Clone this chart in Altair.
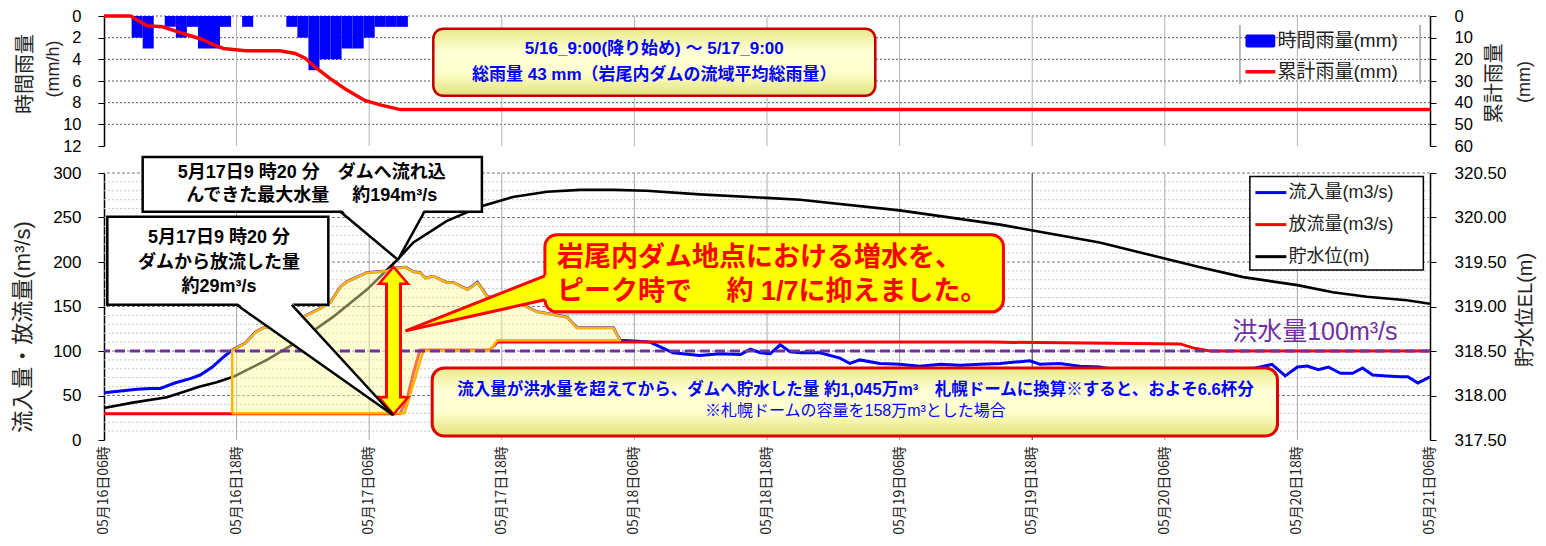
import altair as alt
import pandas as pd

FONT = "Liberation Sans, Noto Sans CJK JP"
XLAB_FONT = "Noto Sans CJK JP"

# ---------------- x axis: hours after 05/16 06:00 ----------------
X_DOMAIN = [0, 120]
X_TICK_HOURS = [0, 12, 24, 36, 48, 60, 72, 84, 96, 108, 120]
X_TICK_LABELS = ["05月16日06時", "05月16日18時", "05月17日06時", "05月17日18時",
                 "05月18日06時", "05月18日18時", "05月19日06時", "05月19日18時",
                 "05月20日06時", "05月20日18時", "05月21日06時"]
VGRID_LIGHT = [12, 24, 36, 48, 60, 72, 96, 108]
VGRID_DARK = [84]

# ---------------- top panel: rainfall ----------------
RAIN_TICKS = [0, 2, 4, 6, 8, 10, 12]
CUM_TICKS = [0, 10, 20, 30, 40, 50, 60]
RAIN_GRID = [0, 2, 4, 6, 8, 10]
RAIN_HOUR = [3, 4, 6, 7, 8, 9, 10, 11, 13, 17, 18, 19, 20, 21, 22, 23, 24, 25, 26, 27]
RAIN_MM = [2, 3, 1, 2, 1, 3, 3, 1, 1, 1, 2, 5, 4, 4, 3, 3, 2, 1, 1, 1]
CUM_HOUR = [0, 2.4, 3.9, 5.3, 6.9, 8.7, 9.9, 10.8, 12.8, 15.9, 17.3, 18.2, 19.2, 20.5, 21.8, 23.6, 25.0, 26.8, 120]
CUM_MM = [0, 0, 4.5, 5.0, 7.7, 10.5, 13.2, 15.0, 16.0, 16.0, 17.3, 19.5, 24.0, 29.0, 33.6, 39.0, 41.0, 43.2, 43.2]

# ---------------- bottom panel: flows and level ----------------
FLOW_TICKS = [0, 50, 100, 150, 200, 250, 300]
LEVEL_TICKS = [317.5, 318.0, 318.5, 319.0, 319.5, 320.0, 320.5]
FLOW_GRID_MAJOR = [50, 100, 150, 200, 250, 300]
FLOW_GRID_MINOR = [10, 20, 30, 40, 60, 70, 80, 90, 110, 120, 130, 140, 160, 170, 180, 190,
                   210, 220, 230, 240, 260, 270, 280, 290]
FLOOD_FLOW = [100]

INFLOW_READINGS = [
    (0, 53), (1.5, 55), (3.0, 57), (4.2, 58), (5.1, 58), (6.4, 64), (7.8, 69), (8.7, 73),
    (9.8, 82), (10.7, 92), (11.6, 101), (12.8, 109), (13.7, 121), (14.4, 126), (15.0, 127),
    (16.6, 131), (18.0, 138), (19.6, 148), (20.5, 155), (21.4, 172), (22.0, 178), (23.8, 188),
    (25.6, 190), (26.2, 193), (27.3, 194), (28.0, 189), (28.6, 188), (29.1, 182), (29.8, 184),
    (31.0, 177), (31.6, 177), (32.9, 169), (33.8, 177), (34.7, 161), (35.6, 160), (37.0, 157),
    (39.2, 144), (40.6, 141), (41.9, 138), (42.8, 126), (44.0, 126), (46.1, 126), (46.7, 112),
    (49.4, 110), (51.5, 98), (53.9, 95), (55.7, 97), (57.6, 96), (58.5, 102), (59.4, 98),
    (60.3, 97), (61.2, 107), (62.1, 99), (63.0, 98), (64.8, 98), (66.6, 92), (67.5, 86),
    (68.4, 90), (70.2, 86), (72.0, 85), (73.8, 83), (75.7, 85), (77.5, 84), (79.3, 85),
    (81.1, 86), (82.9, 88), (83.8, 89), (84.7, 85), (86.5, 86), (88.3, 83), (90.1, 82),
    (94.7, 72), (101.0, 72), (105.7, 85), (106.9, 72), (108.0, 82), (108.9, 83), (109.9, 79),
    (110.8, 82), (111.9, 75), (113.0, 75), (113.9, 81), (114.8, 73), (116.1, 72), (117.3, 71),
    (118.0, 71), (118.9, 64), (120.0, 71)]
OUTFLOW_READINGS = [
    (0, 29.5), (26.3, 29.5), (26.8, 30), (27.4, 45), (28.0, 75), (28.6, 101), (34.9, 101),
    (35.6, 110), (60, 110), (80, 110), (97.4, 108), (98.7, 103), (100.1, 100), (120, 100)]
LEVEL_READINGS = [
    (0, 317.86), (2.6, 317.92), (5.7, 317.98), (8.7, 318.10), (10.2, 318.15), (11.7, 318.21),
    (14.75, 318.40), (17.7, 318.62), (20.7, 318.88), (23.8, 319.19), (26.5, 319.52),
    (28.0, 319.72), (31.0, 319.96), (34.0, 320.12), (37.0, 320.23), (40.1, 320.29),
    (43.1, 320.31), (46.1, 320.31), (49.1, 320.30), (53.9, 320.26), (63.0, 320.20),
    (72.0, 320.08), (81.1, 319.92), (83.8, 319.86), (90.1, 319.72), (99.2, 319.44),
    (103.1, 319.33), (108.0, 319.24), (111.2, 319.16), (114.3, 319.11), (117.9, 319.07),
    (120.0, 319.03)]
# outline of the stored-volume area (inflow above flood flow minus release)
STORE_OUTLINE = [
    (11.6, 30), (11.6, 101), (12.8, 109), (13.7, 121), (14.4, 126), (15.0, 127), (16.6, 131),
    (18.0, 138), (19.6, 148), (20.5, 155), (21.4, 172), (22.0, 178), (23.8, 188), (25.6, 190),
    (26.2, 193), (27.3, 194), (28.0, 189), (28.6, 188), (29.1, 182), (29.8, 184), (31.0, 177),
    (31.6, 177), (32.9, 169), (33.8, 177), (34.7, 161), (35.6, 160), (37.0, 157), (39.2, 144),
    (40.6, 141), (41.9, 138), (42.8, 126), (44.0, 126), (46.1, 126), (46.7, 112), (35.6, 112),
    (34.9, 100), (28.9, 100), (27.2, 30), (11.6, 30)]

# ---------------- texts ----------------
TOP_TITLES = ["時間雨量", "(mm/h)", "累計雨量", "(mm)"]
BOT_TITLES = ["流入量・放流量(m³/s)", "貯水位EL(m)"]
TOP_NOTE = ["5/16_9:00(降り始め)  ～  5/17_9:00", "総雨量 43 mm（岩尾内ダムの流域平均総雨量）"]
BOTTOM_NOTE = ["流入量が洪水量を超えてから、ダムへ貯水した量 約1,045万m³　札幌ドームに換算※すると、およそ6.6杯分",
               "※札幌ドームの容量を158万m³とした場合"]
PEAK_IN_NOTE = ["5月17日9 時20 分　ダムへ流れ込", "んできた最大水量　 約194m³/s"]
PEAK_OUT_NOTE = ["5月17日9 時20 分", "ダムから放流した量", "約29m³/s"]
RESULT_NOTE = ["岩尾内ダム地点における増水を、", "ピーク時で　 約 1/7に抑えました。"]
FLOOD_LABEL = ["洪水量100m³/s"]
TOP_LEGEND = ["時間雨量(mm)", "累計雨量(mm)"]
BOT_LEGEND = ["流入量(m3/s)", "放流量(m3/s)", "貯水位(m)"]
BOT_LEGEND_COLORS = ["#0000FF", "#FF0000", "#000000"]

W = 1326
H_TOP = 130
H_BOT = 267

XS = alt.Scale(domain=X_DOMAIN, nice=False, zero=False)
YT = alt.Scale(domain=[0, 12], reverse=True, nice=False, zero=False)
YT2 = alt.Scale(domain=[0, 60], reverse=True, nice=False, zero=False)
YB = alt.Scale(domain=[0, 300], nice=False, zero=False)
YB2 = alt.Scale(domain=[317.5, 320.5], nice=False, zero=False)


def xq(f, axis=None):
    return alt.X(f"{f}:Q", scale=XS, axis=axis)


def yq(f, sc, axis=None):
    return alt.Y(f"{f}:Q", scale=sc, axis=axis)


def df(**cols):
    return pd.DataFrame(cols)


def rect(xa, xb, ya, yb, sc, **mark):
    return alt.Chart(df(xa=[xa], xb=[xb], ya=[ya], yb=[yb])).mark_rect(**mark).encode(
        x=xq("xa"), x2=alt.X2("xb"), y=yq("ya", sc), y2=alt.Y2("yb"))


def texts(xs, ys, labels, sc, **mark):
    m = dict(font=FONT, baseline="middle")
    m.update(mark)
    return alt.Chart(df(x=xs, y=ys, t=labels)).mark_text(**m).encode(
        x=xq("x"), y=yq("y", sc), text="t:N")


def seg(x1s, y1s, x2s, y2s, sc, **mark):
    return alt.Chart(df(xa=x1s, ya=y1s, xb=x2s, yb=y2s)).mark_rule(**mark).encode(
        x=xq("xa"), y=yq("ya", sc), x2=alt.X2("xb"), y2=alt.Y2("yb"))


BOX_GRADIENT = alt.Gradient(
    gradient="linear", x1=0, x2=0, y1=0, y2=1,
    stops=[alt.GradientStop(color="#E9E98A", offset=0),
           alt.GradientStop(color="#FFFFD8", offset=0.35),
           alt.GradientStop(color="#FFFFCC", offset=0.65),
           alt.GradientStop(color="#E2E27A", offset=1)])

axis_common = dict(labelFont=FONT, labelColor="black", tickColor="black", domainColor="black",
                   domainWidth=1.5, grid=False, tickSize=6, title=None)

# ======================= TOP PANEL =======================
top_x_axis = alt.Axis(labels=False, ticks=False, grid=False, title=None,
                      domainColor="black", domainWidth=1.5)
rain_left_axis = alt.Axis(values=RAIN_TICKS, labelFontSize=16.5, labelPadding=17, **axis_common)
rain_right_axis = alt.Axis(values=CUM_TICKS, orient="right", labelFontSize=16.5, labelPadding=18,
                           **axis_common)

t_hgrid = alt.Chart(df(v=RAIN_GRID)).mark_rule(color="#555555", strokeDash=[2, 2], strokeWidth=1).encode(
    y=yq("v", YT))
t_vgrid = alt.Chart(df(h=VGRID_LIGHT + VGRID_DARK)).mark_rule(color="#B4B4B4", strokeWidth=1).encode(
    x=xq("h"))
t_bars = alt.Chart(df(h=RAIN_HOUR, mm=RAIN_MM)).transform_calculate(
    x0="datum.h - 0.5", x1="datum.h + 0.5", base="0").mark_rect(color="#0000FF").encode(
    x=xq("x0", top_x_axis), x2=alt.X2("x1"), y=yq("mm", YT, rain_left_axis), y2=alt.Y2("base"))
t_cum = alt.Chart(df(h=CUM_HOUR, mm=CUM_MM)).mark_line(color="#FF0000", strokeWidth=3.5).encode(
    x=xq("h"), y=yq("mm", YT2, rain_right_axis))

t_titles = alt.Chart(df(x=[-7.06, -4.52, 125.9, 128.6], y=[5.36, 4.9, 6.2, 6.1], t=TOP_TITLES,
                        s=[20, 18, 20, 18])).mark_text(
    font=FONT, angle=270, align="center", baseline="middle", color="#222222").encode(
    x=xq("x"), y=yq("y", YT), text="t:N", size=alt.Size("s:Q", scale=None))

t_note_shadow = rect(29.8, 69.8, 1.18, 7.36, YT, color="#000000", opacity=0.22, cornerRadius=10,
                     xOffset=3, yOffset=3)
t_note_box = rect(29.8, 69.8, 1.18, 7.36, YT, fill=BOX_GRADIENT, stroke="#C00000", strokeWidth=2.5,
                  cornerRadius=10)
t_note_text = texts([49.8, 49.8], [3.05, 5.4], TOP_NOTE, YT, fontSize=17, fontWeight="bold",
                    color="#0000FF", align="center")

t_leg_lines = seg([102.8, 119.1], [0.82, 0.82], [102.8, 119.1], [6.27, 6.27], YT,
                  color="#A0A0A0", strokeWidth=1.5)
t_leg_swatch = rect(103.3, 106.0, 1.7, 2.9, YT, color="#0000FF", cornerRadius=2)
t_leg_line = seg([103.3], [5.15], [106.0], [5.15], YT, color="#FF0000", strokeWidth=3.5)
t_leg_text = texts([106.2, 106.2], [2.3, 5.15], TOP_LEGEND, YT, fontSize=19, color="#222222",
                   align="left")

top = alt.layer(
    t_hgrid, t_vgrid, t_bars, t_cum, t_titles, t_note_shadow, t_note_box, t_note_text,
    t_leg_lines, t_leg_swatch, t_leg_line, t_leg_text
).resolve_scale(y="independent").properties(width=W, height=H_TOP)

# ======================= BOTTOM PANEL =======================
bot_x_axis = alt.Axis(values=X_TICK_HOURS, labels=False, tickSize=5, tickColor="black",
                      domainColor="black", domainWidth=1.5, grid=False, title=None)
flow_axis = alt.Axis(values=FLOW_TICKS, labelFontSize=17, labelPadding=17, **axis_common)
level_axis = alt.Axis(values=LEVEL_TICKS, format=".2f", orient="right", labelFontSize=17,
                      labelPadding=18, **axis_common)

inflow_df = pd.DataFrame(INFLOW_READINGS, columns=["h", "v"])
outflow_df = pd.DataFrame(OUTFLOW_READINGS, columns=["h", "v"])
level_df = pd.DataFrame(LEVEL_READINGS, columns=["h", "v"])
store_df = pd.DataFrame(STORE_OUTLINE, columns=["h", "v"]).reset_index().rename(columns={"index": "o"})

b_minor = alt.Chart(df(v=FLOW_GRID_MINOR)).mark_rule(color="#C8C8C8", strokeDash=[2, 2], strokeWidth=1).encode(
    y=yq("v", YB))
b_major = alt.Chart(df(v=FLOW_GRID_MAJOR)).mark_rule(color="#7A7A7A", strokeDash=[3, 2], strokeWidth=1).encode(
    y=yq("v", YB))
b_vgrid = alt.Chart(df(h=VGRID_LIGHT)).mark_rule(color="#A8A8A8", strokeWidth=1).encode(x=xq("h"))
b_vgrid_dark = alt.Chart(df(h=VGRID_DARK)).mark_rule(color="#303030", strokeWidth=1).encode(x=xq("h"))
b_level = alt.Chart(level_df).mark_line(color="#000000", strokeWidth=2.6).encode(
    x=xq("h"), y=yq("v", YB2, level_axis))
b_inflow = alt.Chart(inflow_df).mark_line(color="#0000FF", strokeWidth=3).encode(
    x=xq("h", bot_x_axis), y=yq("v", YB, flow_axis))
b_outflow = alt.Chart(outflow_df).mark_line(color="#FF0000", strokeWidth=3).encode(
    x=xq("h"), y=yq("v", YB))
b_store = alt.Chart(store_df).mark_line(fill="#FAFA9A", fillOpacity=0.45, stroke="#FFB400",
                                        strokeWidth=2.5, strokeJoin="round").encode(
    x=xq("h"), y=yq("v", YB), order="o:Q")
b_flood = alt.Chart(df(v=FLOOD_FLOW)).mark_rule(color="#7030A0", strokeDash=[10, 5], strokeWidth=3).encode(
    y=yq("v", YB))

# time labels under the bottom panel (rotated, reading upwards)
b_xlabels = alt.Chart(df(h=X_TICK_HOURS, y=[-7.0] * len(X_TICK_HOURS), t=X_TICK_LABELS)).mark_text(
    font=XLAB_FONT, fontSize=14, angle=270, align="right", baseline="middle", color="#222222").encode(
    x=xq("h"), y=yq("y", YB), text="t:N")

b_titles = alt.Chart(df(x=[-7.33, 128.7], y=[127.0, 146.0], t=BOT_TITLES, s=[22, 20])).mark_text(
    font=FONT, angle=270, align="center", baseline="middle", color="#222222").encode(
    x=xq("x"), y=yq("y", YB), text="t:N", size=alt.Size("s:Q", scale=None))

# bottom note box
b_note_shadow = rect(29.7, 106.2, 81, 4.5, YB, color="#000000", opacity=0.25, cornerRadius=12,
                     xOffset=4, yOffset=4)
b_note_box = rect(29.7, 106.2, 81, 4.5, YB, fill=BOX_GRADIENT, stroke="#E00000", strokeWidth=3,
                  cornerRadius=12)
b_note_text1 = texts([68.0], [56.5], BOTTOM_NOTE[:1], YB, fontSize=16.5, fontWeight="bold", color="#0000FF",
                     align="center")
b_note_text2 = texts([68.0], [32.5], BOTTOM_NOTE[1:], YB, fontSize=16, color="#0000FF", align="center")

# double arrow (peak inflow vs release)
ARROW_H = [26.2]
b_arrow_red = alt.Chart(df(h=ARROW_H, a=[176.0], b=[48.0])).mark_rule(
    color="#FF0000", strokeWidth=17, strokeCap="butt").encode(x=xq("h"), y=yq("a", YB), y2=alt.Y2("b"))
b_head_up = alt.Chart(df(h=ARROW_H, v=[185.0])).mark_point(
    shape="M0,-0.586L1,0.586L-1,0.586Z", size=841, filled=True, fill="#FFFF00", stroke="#FF0000",
    strokeWidth=2.5, opacity=1).encode(x=xq("h"), y=yq("v", YB))
b_head_dn = alt.Chart(df(h=ARROW_H, v=[38.5])).mark_point(
    shape="M0,0.586L1,-0.586L-1,-0.586Z", size=841, filled=True, fill="#FFFF00", stroke="#FF0000",
    strokeWidth=2.5, opacity=1).encode(x=xq("h"), y=yq("v", YB))
b_arrow_yel = alt.Chart(df(h=ARROW_H, a=[178.5], b=[45.5])).mark_rule(
    color="#FFFF00", strokeWidth=11, strokeCap="butt").encode(x=xq("h"), y=yq("a", YB), y2=alt.Y2("b"))

# callout 1: peak inflow
c1_box = rect(3.5, 34.2, 256.5, 318, YB, fill="white", stroke="black", strokeWidth=2.5)
c1_ptr = alt.Chart(df(y=[259.5, 202.5], xa=[21.4, 26.6], xb=[29.0, 26.6])).mark_area(
    orient="horizontal", color="white", opacity=1).encode(y=yq("y", YB), x=xq("xa"), x2=alt.X2("xb"))
c1_sides = seg([21.4, 29.0], [256.5, 256.5], [26.6, 26.6], [202.5, 202.5], YB, color="black", strokeWidth=2.5)
c1_text = texts([18.8, 18.8], [300.0, 274.0], PEAK_IN_NOTE, YB, fontSize=18, fontWeight="bold",
                color="black", align="center")

# callout 2: release at peak
c2_box = rect(0.3, 20.3, 151.9, 250.9, YB, fill="white", stroke="black", strokeWidth=2.5)
c2_ptr = alt.Chart(df(y=[154.5, 28.1], xa=[12.0, 26.15], xb=[17.0, 26.15])).mark_area(
    orient="horizontal", color="white", opacity=1).encode(y=yq("y", YB), x=xq("xa"), x2=alt.X2("xb"))
c2_sides = seg([12.0, 17.0], [151.9, 151.9], [26.15, 26.15], [28.1, 28.1], YB, color="black", strokeWidth=2.5)
c2_text = texts([10.4, 10.4, 10.4], [227.0, 199.0, 172.0], PEAK_OUT_NOTE, YB, fontSize=18,
                fontWeight="bold", color="black", align="center")

# result callout
r_shadow = rect(39.9, 81.4, 144, 230.6, YB, color="#000000", opacity=0.2, cornerRadius=12,
                xOffset=3, yOffset=3)
r_box = rect(39.9, 81.4, 144, 230.6, YB, fill="#FFFF00", stroke="#FF0000", strokeWidth=3, cornerRadius=12)
r_wedge = alt.Chart(df(h=[27.3, 40.4], a=[122.6, 187.0], b=[122.6, 158.8])).mark_area(
    color="#FFFF00", opacity=1).encode(x=xq("h"), y=yq("a", YB), y2=alt.Y2("b"))
r_sides = seg([39.9, 39.9], [184.5, 157.5], [27.3, 27.3], [122.6, 122.6], YB, color="#FF0000", strokeWidth=3)
r_text = texts([41.0, 41.0], [204.5, 166.0], RESULT_NOTE, YB, fontSize=27, fontWeight="bold",
               color="#FF0000", align="left")

# flood flow label
f_text = texts([102.1], [112.5], FLOOD_LABEL, YB, fontSize=25, color="#7030A0", align="left",
               baseline="alphabetic")

# legend
l_box = rect(103.7, 119.4, 191, 296, YB, fill="white", stroke="black", strokeWidth=1.5)
l_lines = alt.Chart(df(xa=[104.2] * 3, xb=[107.0] * 3, y=[278.0, 242.0, 206.0], c=BOT_LEGEND_COLORS)).mark_rule(
    strokeWidth=3).encode(x=xq("xa"), x2=alt.X2("xb"), y=yq("y", YB),
                          color=alt.Color("c:N", scale=None))
l_text = texts([107.2] * 3, [278.0, 242.0, 206.0], BOT_LEGEND, YB, fontSize=18, color="#222222",
               align="left")

bottom = alt.layer(
    b_minor, b_major, b_vgrid, b_vgrid_dark, b_level, b_inflow, b_outflow, b_store, b_flood,
    b_xlabels, b_titles, b_note_shadow, b_note_box, b_note_text1, b_note_text2,
    c1_box, c1_ptr, c1_sides, c1_text,
    c2_box, c2_text,
    b_arrow_red, b_head_up, b_head_dn, b_arrow_yel,
    c2_ptr, c2_sides,
    r_shadow, r_box, r_wedge, r_sides, r_text,
    f_text, l_box, l_lines, l_text
).resolve_scale(y="independent").properties(width=W, height=H_BOT)

chart = alt.vconcat(top, bottom, spacing=27, bounds="flush").properties(
    padding={"left": 4, "top": 0, "right": 0, "bottom": 0}
).configure_view(stroke=None)

chart.save("out.html", embed_options={"renderer": "svg", "actions": False})
